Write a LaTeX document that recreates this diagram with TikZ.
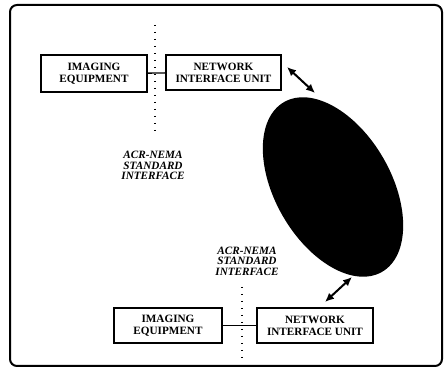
\documentclass[tikz,border=0pt]{standalone}
\usepackage{fontspec}
\setmainfont{Liberation Serif}
\usetikzlibrary{shapes.geometric,arrows.meta}
\tikzset{
  unit/.style={draw, line width=1.1pt, align=center, font=\bfseries\fontsize{11.2}{11.8}\selectfont, inner sep=0pt},
  stdlabel/.style={align=center, font=\bfseries\itshape\fontsize{11.2}{10.6}\selectfont},
  dotline/.style={line width=1.5pt, dash pattern=on 1.5pt off 5.5pt},
  link/.style={line width=1.4pt},
  dblarrow/.style={line width=2pt, {Latex[length=9pt,width=8pt]}-{Latex[length=9pt,width=8pt]}}
}
\begin{document}
\begin{tikzpicture}[x=1pt,y=-1pt]
			\useasboundingbox (0,0) rectangle (445,371);
			\draw[line width=2pt, rounded corners=7pt] (10,5) rectangle (442,366);
			% top side
			\node[unit, minimum width=106pt, minimum height=37pt] (ie1) at (94,73.5) {IMAGING\\EQUIPMENT};
			\node[unit, minimum width=115pt, minimum height=35pt] (niu1) at (223.5,72.5) {NETWORK\\INTERFACE UNIT};
			\node[stdlabel] (lab1) at (153,165.5) {ACR-NEMA\\STANDARD\\INTERFACE};
			\coordinate (d1a) at (155,25);
			\coordinate (d1b) at (155,136);
			\draw[dotline] (d1a) -- (d1b);
			\draw[link] (ie1) -- (niu1);
			% network
			\node[ellipse, fill=black, inner sep=0pt, minimum width=196pt, minimum height=116pt, rotate=-60] (net) at (333,187) {};
			\coordinate (a1s) at (287,67);
			\coordinate (a1e) at (315,93);
			\draw[dblarrow] (a1s) -- (a1e);
			% bottom side
			\node[unit, minimum width=108pt, minimum height=35pt] (ie2) at (168,325.5) {IMAGING\\EQUIPMENT};
			\node[unit, minimum width=116pt, minimum height=35pt] (niu2) at (315,325.5) {NETWORK\\INTERFACE UNIT};
			\node[stdlabel] (lab2) at (247,261) {ACR-NEMA\\STANDARD\\INTERFACE};
			\coordinate (d2a) at (242,287);
			\coordinate (d2b) at (242,362);
			\draw[dotline] (d2a) -- (d2b);
			\draw[link] (ie2) -- (niu2);
			\coordinate (a2s) at (325,302);
			\coordinate (a2e) at (352,277);
			\draw[dblarrow] (a2s) -- (a2e);
		\end{tikzpicture}
\end{document}
